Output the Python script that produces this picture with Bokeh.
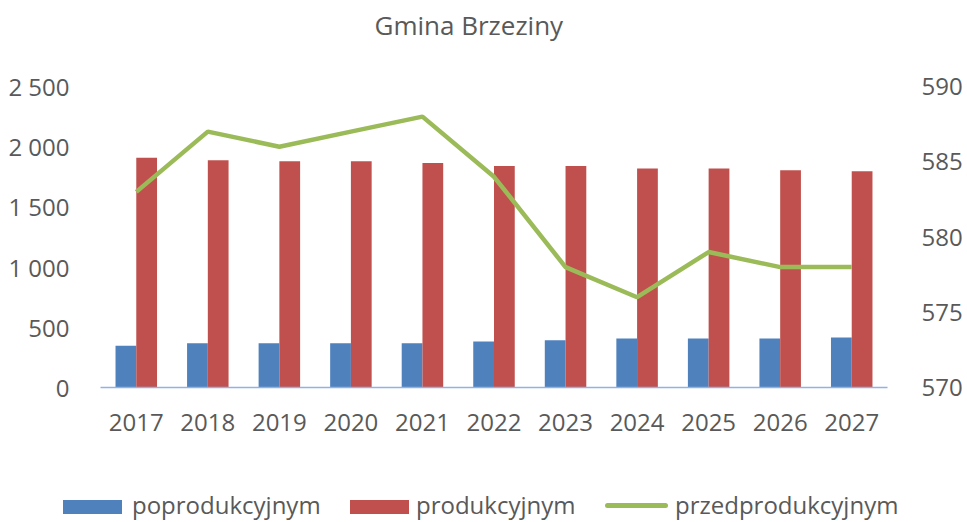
from bokeh.plotting import figure
from bokeh.layouts import column
from bokeh.models import (FactorRange, Range1d, LinearAxis, FixedTicker, ColumnDataSource,
                          Label, Div)
from bokeh.transform import dodge
from bokeh.embed import file_html
from bokeh.resources import INLINE

years = ["2017", "2018", "2019", "2020", "2021", "2022", "2023", "2024", "2025", "2026", "2027"]
poprodukcyjnym = [346, 368, 368, 368, 368, 382, 393, 407, 407, 407, 415]
produkcyjnym = [1909, 1888, 1879, 1879, 1865, 1840, 1840, 1818, 1818, 1804, 1796]
przedprodukcyjnym = [583, 587, 586, 587, 588, 584, 578, 576, 579, 578, 578]
left_ticks = [0, 500, 1000, 1500, 2000, 2500]
left_labels = ["0", "500", "1 000", "1 500", "2 000", "2 500"]
right_ticks = [570, 575, 580, 585, 590]
series_names = ["poprodukcyjnym", "produkcyjnym", "przedprodukcyjnym"]
title_text = "Gmina Brzeziny"

FONT = "Open Sans"
TXT = "#595959"
BLUE, RED, GREEN = "#4F81BD", "#C0504D", "#9BBB59"
W = 965
BL, BR = 100, W - 894

# title strip
ts = figure(width=W, height=48, x_range=Range1d(0, 1), y_range=Range1d(0, 1),
            output_backend="svg", toolbar_location=None, x_axis_type=None,
            y_axis_type=None, min_border_left=BL, min_border_right=BR,
            min_border_top=0, min_border_bottom=0)
ts.outline_line_color = None
ts.grid.grid_line_color = None
ts.add_layout(Label(x=274, y=24, x_units="screen", y_units="screen", text=title_text,
                    text_font=FONT, text_font_size="26px", text_color=TXT,
                    text_baseline="middle", text_align="left"))

# main chart
src = ColumnDataSource(dict(years=years, post=poprodukcyjnym, prod=produkcyjnym, pre=przedprodukcyjnym))

p = figure(width=W, height=440, x_range=FactorRange(*years, range_padding=0),
           y_range=Range1d(0, 2500), output_backend="svg", toolbar_location=None,
           min_border_left=BL, min_border_right=BR, min_border_top=38, min_border_bottom=101)
p.outline_line_color = None
p.grid.grid_line_color = None
p.extra_y_ranges = {"right": Range1d(570, 590)}

p.vbar(x=dodge("years", -0.145, range=p.x_range), top="post", width=0.29, source=src,
       fill_color=BLUE, line_color=None)
p.vbar(x=dodge("years", 0.145, range=p.x_range), top="prod", width=0.29, source=src,
       fill_color=RED, line_color=None)
p.line(x="years", y="pre", source=src, y_range_name="right", line_color=GREEN, line_width=4.5)

ya = p.yaxis[0]
ya.ticker = FixedTicker(ticks=left_ticks)
ya.major_label_overrides = {t: l for t, l in zip(left_ticks, left_labels)}
ya.axis_line_color = None
ya.major_tick_line_color = None
ya.minor_tick_line_color = None
ya.major_label_text_font = FONT
ya.major_label_text_font_size = "24px"
ya.major_label_text_color = TXT
ya.major_label_standoff = 25

ra = LinearAxis(y_range_name="right", ticker=FixedTicker(ticks=right_ticks))
ra.axis_line_color = None
ra.major_tick_line_color = None
ra.minor_tick_line_color = None
ra.major_label_text_font = FONT
ra.major_label_text_font_size = "24px"
ra.major_label_text_color = TXT
ra.major_label_standoff = 28
p.add_layout(ra, "right")

xa = p.xaxis[0]
xa.axis_line_color = "#8EB4E3"
xa.axis_line_width = 1.5
xa.major_tick_line_color = None
xa.minor_tick_line_color = None
xa.major_label_text_font = FONT
xa.major_label_text_font_size = "24px"
xa.major_label_text_color = TXT
xa.major_label_standoff = 20

# legend strip (HTML)
swatches = [(63, 12, 59, 14, BLUE, 0), (350, 12, 59, 14, RED, 0), (605, 15, 63, 5, GREEN, 3)]
text_left = [132, 416, 675]
parts = []
for (lx, ty, w, h, c, rad), tx, name in zip(swatches, text_left, series_names):
    parts.append(f'<span style="position:absolute;left:{lx}px;top:{ty}px;width:{w}px;'
                 f'height:{h}px;background:{c};border-radius:{rad}px;"></span>')
    parts.append(f'<span style="position:absolute;left:{tx}px;top:3px;line-height:28px;'
                 f'white-space:nowrap;">{name}</span>')
html = ('<div style="position:relative;width:965px;height:34px;overflow:visible;'
        f"font-family:'{FONT}';font-size:24px;color:{TXT};\">" + "".join(parts) + "</div>")
lg = Div(text=html, width=W, height=34, margin=(0, 0, 0, 0))

lay = column(ts, p, lg, spacing=0)
open("out.html", "w").write(file_html(lay, INLINE))
